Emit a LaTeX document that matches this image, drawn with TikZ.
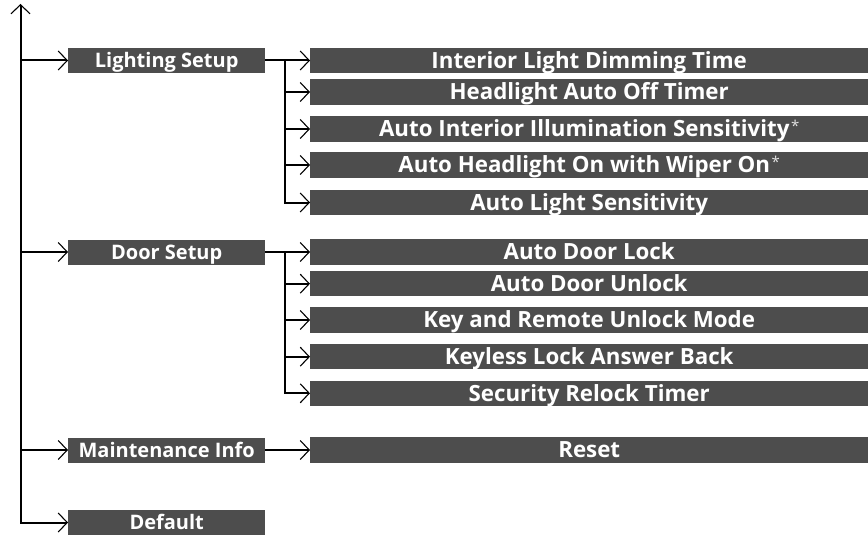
\documentclass[tikz,border=0pt]{standalone}
\usepackage{fontspec}
\setmainfont{Open Sans}
\usetikzlibrary{arrows.meta}
\definecolor{balken}{RGB}{77,77,77}
\definecolor{sterngrau}{RGB}{225,225,225}
\newcommand{\sternchen}{\hspace{1.5pt}\raisebox{5pt}{\fontsize{15}{15}\selectfont\mdseries\color{sterngrau}*}}
\begin{document}
\begin{tikzpicture}[x=1pt,y=-1pt,
  >={Straight Barb[length=9pt,width=19pt,line width=1.1pt]},
  linie/.style={->,line width=2pt},
  haupt/.style={fill=balken,text=white,inner sep=0pt,anchor=west,
    minimum width=197pt,minimum height=25pt,text height=14.2pt,text depth=0pt,
    font=\fontsize{20}{23}\selectfont\bfseries},
  unter/.style={fill=balken,text=white,inner sep=0pt,anchor=west,
    minimum width=558pt,minimum height=25.5pt,text height=15.9pt,text depth=0pt,
    font=\fontsize{22.3}{26}\selectfont\bfseries}]
\useasboundingbox (0,0) rectangle (868,535);
%
% --- Hauptmenue (links) ---
\node[haupt] (licht)   at (68,60.5)  {Lighting Setup};
\node[haupt] (tuer)    at (68,252)   {Door Setup};
\node[haupt] (wartung) at (68,450)   {Maintenance Info};
\node[haupt] (standard) at (68,522.5) {Default};
%
% --- Untermenue Licht ---
\node[unter] (dimmzeit)   at (310,60.5)  {Interior Light Dimming Time};
\node[unter] (ausaus)     at (310,92)    {Headlight Auto Off Timer};
\node[unter] (innenlicht) at (310,129)   {Auto Interior Illumination Sensitivity\sternchen};
\node[unter] (wischer)    at (310,165)   {Auto Headlight On with Wiper On\sternchen};
\node[unter] (lichtsens)  at (310,202.5) {Auto Light Sensitivity};
%
% --- Untermenue Tuer ---
\node[unter] (autolock)   at (310,252)   {Auto Door Lock};
\node[unter] (autounlock) at (310,283.7) {Auto Door Unlock};
\node[unter] (fernbed)    at (310,320)   {Key and Remote Unlock Mode};
\node[unter] (antwort)    at (310,356.7) {Keyless Lock Answer Back};
\node[unter] (relock)     at (310,393.3) {Security Relock Timer};
%
% --- Untermenue Wartung ---
\node[unter] (reset) at (310,450) {Reset};
%
% Hauptlinie mit Pfeil nach oben
\coordinate (spitze) at (20.5,4);
\draw[linie,<->] (spitze) |- (standard);
\foreach \n in {licht,tuer,wartung}
  \draw[linie] (spitze |- \n) -- (\n);
%
% Verzweigung Licht
\coordinate (lbus) at ([xshift=20pt]licht.east);
\draw[linie] (licht) -- (dimmzeit);
\draw[linie] (lbus) |- (lichtsens);
\foreach \n in {ausaus,innenlicht,wischer}
  \draw[linie] (lbus |- \n) -- (\n);
%
% Verzweigung Tuer
\coordinate (tbus) at ([xshift=20pt]tuer.east);
\draw[linie] (tuer) -- (autolock);
\draw[linie] (tbus) |- (relock);
\foreach \n in {autounlock,fernbed,antwort}
  \draw[linie] (tbus |- \n) -- (\n);
%
% Wartung -> Reset
\draw[linie] (wartung) -- (reset);
\end{tikzpicture}
\end{document}
